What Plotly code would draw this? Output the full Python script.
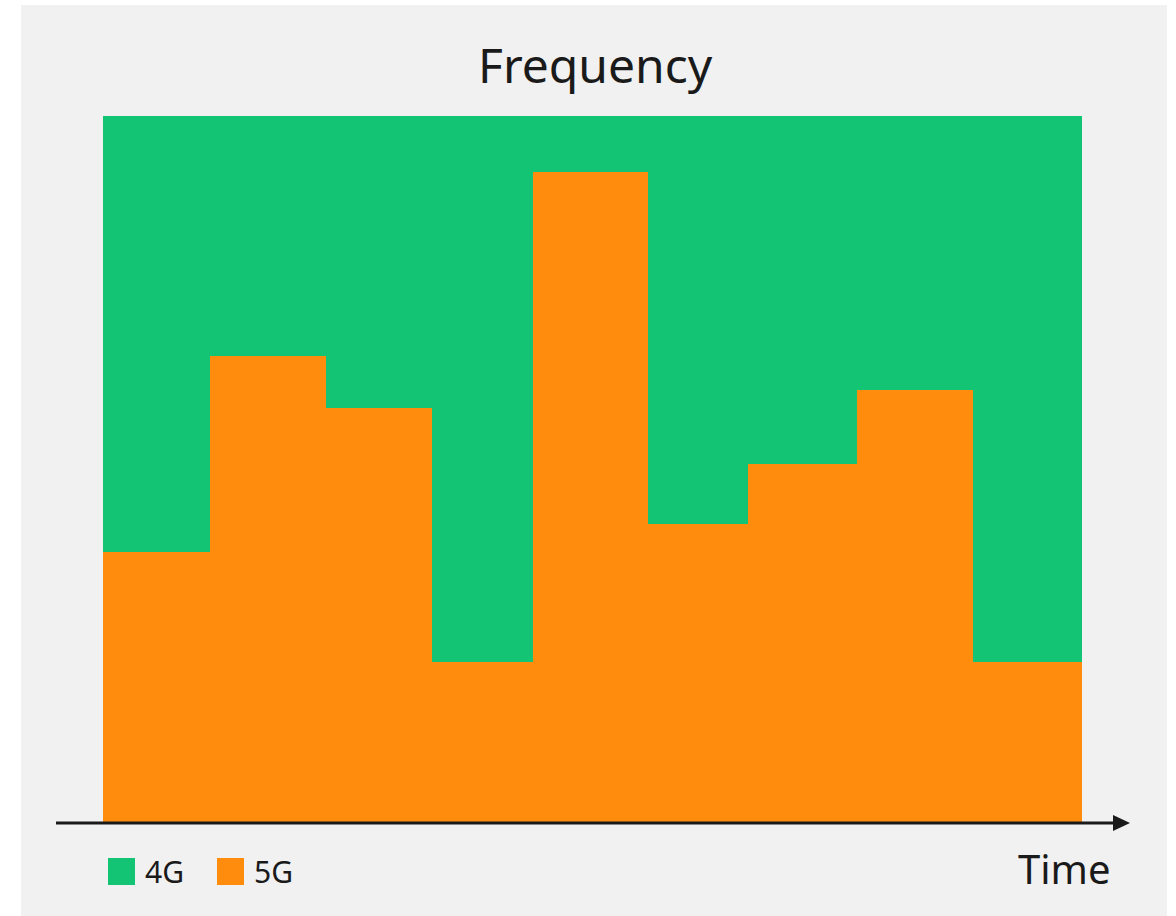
import numpy as np
import plotly.graph_objects as go

# Duration of each time slot and share of traffic per network generation (%)
durations = [10.7, 11.6, 10.6, 10.1, 11.5, 10.0, 10.9, 11.6, 10.9]
share_5g = [38.2, 66.0, 58.6, 22.7, 92.1, 42.2, 50.7, 61.2, 22.7]
share_4g = [round(100 - v, 1) for v in share_5g]
series_names = ["4G", "5G"]
colors = {"4G": "#12c474", "5G": "#ff8c0d"}

edges = np.concatenate([[0], np.cumsum(durations)])
centers = (edges[:-1] + edges[1:]) / 2
total = float(edges[-1])

W, H = 1176, 916
ml, mr, mt, mb = 103, 94, 116, 94
pw, ph = W - ml - mr, H - mt - mb


def px(x):
    return (x - ml) / pw


def py(y):
    return (H - mb - y) / ph


fig = go.Figure()
fig.add_trace(go.Bar(x=centers, y=share_5g, width=durations, name="5G",
                     marker=dict(color=colors["5G"], line_width=0)))
fig.add_trace(go.Bar(x=centers, y=share_4g, width=durations, name="4G",
                     marker=dict(color=colors["4G"], line_width=0)))

text_col = "#1a1a1a"
shapes = [
    # panel background
    dict(type="rect", xref="paper", yref="paper", x0=px(21), x1=px(1167),
         y0=py(916), y1=py(5), fillcolor="#f1f1f1", line_width=0, layer="below"),
    # time axis with arrow head
    dict(type="line", xref="paper", yref="paper", x0=px(56), x1=px(1116),
         y0=py(823), y1=py(823), line=dict(color=text_col, width=3)),
    dict(type="path", xref="paper", yref="paper",
         path=f"M {px(1113)},{py(815)} L {px(1130)},{py(823)} L {px(1113)},{py(831)} Z",
         fillcolor=text_col, line_width=0),
]

annotations = [
    dict(text="Frequency", xref="paper", yref="paper", x=px(595), y=py(64),
         xanchor="center", yanchor="middle", showarrow=False,
         font=dict(size=48, color=text_col)),
    dict(text="Time", xref="paper", yref="paper", x=px(1113), y=py(868),
         xanchor="right", yanchor="middle", showarrow=False,
         font=dict(size=40, color=text_col)),
]

# legend drawn as swatches with labels
for i, name in enumerate(series_names):
    x0 = 108 + i * 109
    shapes.append(dict(type="rect", xref="paper", yref="paper",
                       x0=px(x0), x1=px(x0 + 27), y0=py(885), y1=py(858),
                       fillcolor=colors[name], line_width=0))
    annotations.append(dict(text=name, xref="paper", yref="paper",
                            x=px(x0 + 35), y=py(871), xanchor="left",
                            yanchor="middle", showarrow=False,
                            font=dict(size=30, color=text_col)))

fig.update_layout(
    width=W, height=H,
    margin=dict(l=ml, r=mr, t=mt, b=mb),
    barmode="stack", bargap=0,
    showlegend=False,
    paper_bgcolor="white", plot_bgcolor="#f1f1f1",
    font=dict(family="Noto Sans"),
    xaxis=dict(range=[0, total], visible=False, fixedrange=True),
    yaxis=dict(range=[0, 100], visible=False, fixedrange=True),
    shapes=shapes, annotations=annotations,
)

fig.write_html("out.html", config={"displayModeBar": False})
